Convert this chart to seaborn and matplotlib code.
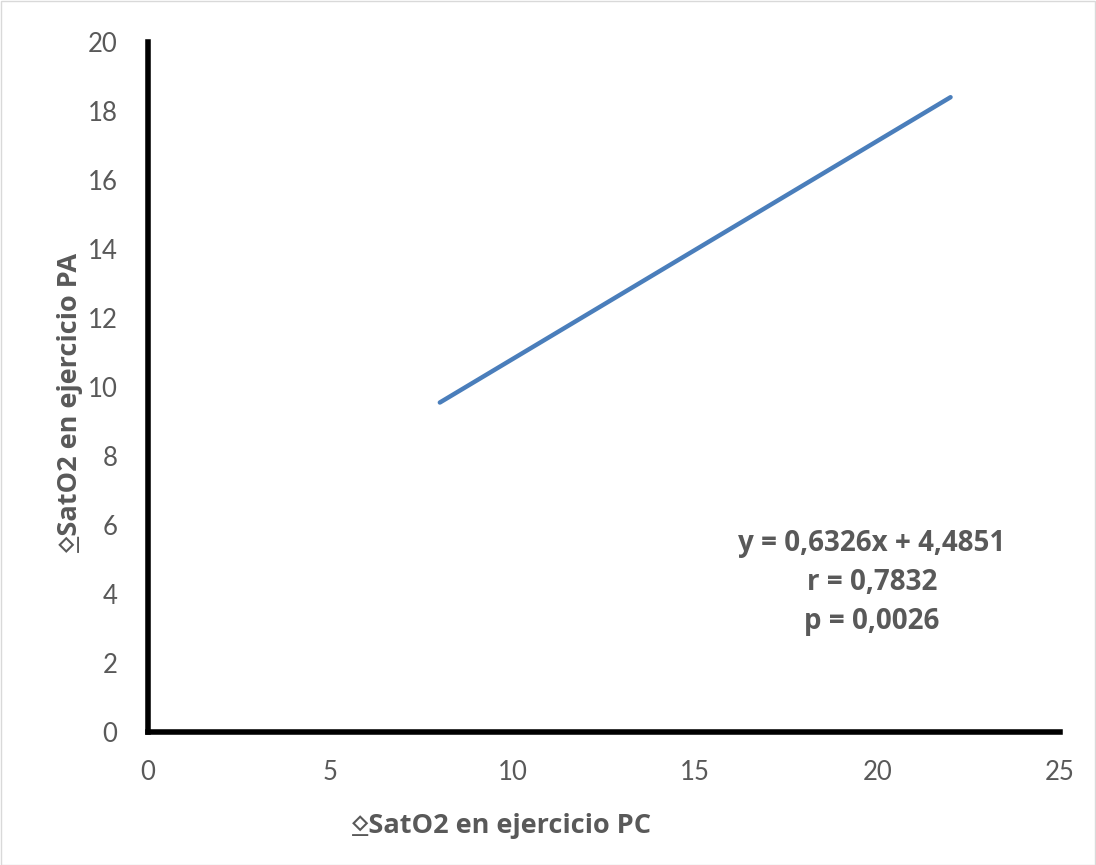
import matplotlib
matplotlib.use("Agg")
import matplotlib.pyplot as plt
import seaborn as sns
import pandas as pd
from matplotlib.patches import Rectangle

# Data
x_vals = [8, 22]
y_vals = [9.55, 18.40]
x_ticks = [0, 5, 10, 15, 20, 25]
y_ticks = [0, 2, 4, 6, 8, 10, 12, 14, 16, 18, 20]
eq_lines = ["y = 0,6326x + 4,4851", "r = 0,7832", "p = 0,0026"]
x_label = "\u235aSatO2 en ejercicio PC"
y_label = "\u235aSatO2 en ejercicio PA"

sns.set_theme(style="white")
fams = ['Open Sans', 'DejaVu Sans', 'DejaVu Sans Mono', 'Noto Sans CJK SC']
plt.rcParams['font.family'] = fams

df = pd.DataFrame({"x": x_vals, "y": y_vals})

fig = plt.figure(figsize=(10.96, 8.65), dpi=100)
W, H = 1096, 865
ax = fig.add_axes([148 / W, 1 - 732 / H, (1060 - 148) / W, (732 - 42) / H])

sns.lineplot(data=df, x="x", y="y", ax=ax, color="#4A7EBB", linewidth=3.2)

ax.set_xlim(0, 25)
ax.set_ylim(0, 20)
ax.set_xticks(x_ticks)
ax.set_yticks(y_ticks)
ax.set_xlabel("")
ax.set_ylabel("")
ax.tick_params(axis="both", labelsize=17, colors="#595959", length=0)
ax.tick_params(axis="y", pad=22)
ax.tick_params(axis="x", pad=20)
for lbl in ax.get_xticklabels() + ax.get_yticklabels():
    lbl.set_fontfamily(['Lato', 'DejaVu Sans'])
    lbl.set_fontsize(18.5)
for s in ["top", "right"]:
    ax.spines[s].set_visible(False)
for s in ["left", "bottom"]:
    ax.spines[s].set_color("black")
    ax.spines[s].set_linewidth(4)
ax.grid(False)

txt_color = "#595959"
fig.text(502 / W, 1 - 826 / H, x_label, ha="center", va="center", fontsize=19.5,
         fontweight="bold", color=txt_color, family=fams)
fig.text(70 / W, 1 - 402 / H, y_label, ha="center", va="center", fontsize=19.5,
         fontweight="bold", color=txt_color, rotation=90, family=fams)

for i, line in enumerate(eq_lines):
    fig.text(872 / W, 1 - (543 + 39 * i) / H, line, ha="center", va="center",
             fontsize=20, fontweight="bold", color=txt_color, family=fams)

fig.patches.append(Rectangle((0.5 / W, 0.5 / H), 1 - 1.5 / W, 1 - 1.5 / H,
                             transform=fig.transFigure, fill=False,
                             edgecolor="#D9D9D9", linewidth=1))

fig.savefig("out.png", dpi=100)
